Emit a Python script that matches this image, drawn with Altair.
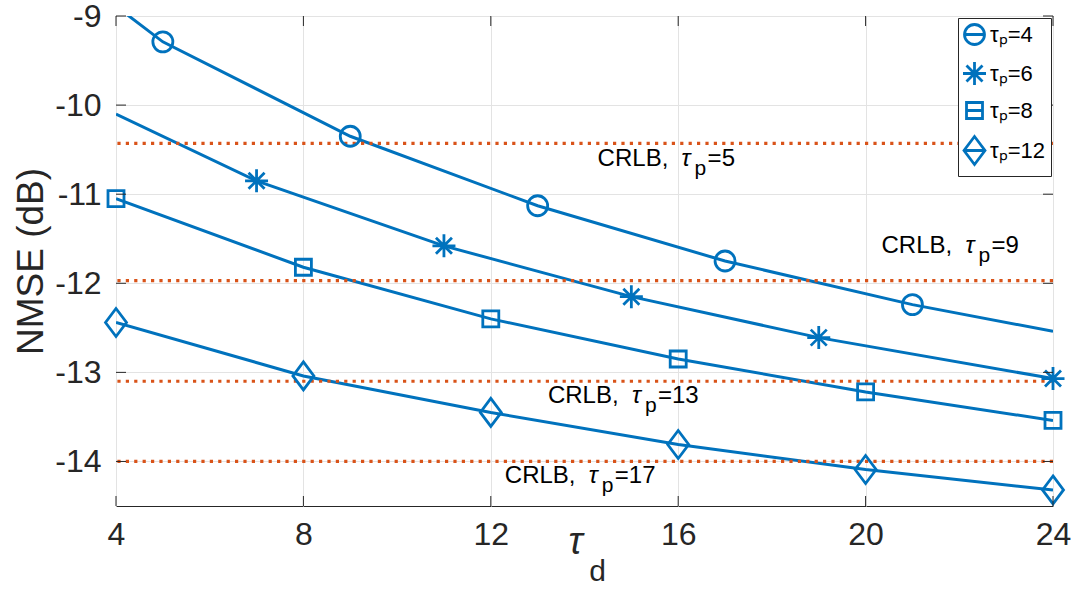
import altair as alt
import pandas as pd

# ---- data -------------------------------------------------------------
tau_d_circ = [4, 5, 9, 13, 17, 21, 24]
nmse_circ = [-8.89, -9.29, -10.35, -11.13, -11.75, -12.24, -12.54]
mark_circ = [False, True, True, True, True, True, False]

tau_d_star = [4, 7, 11, 15, 19, 24]
nmse_star = [-10.10, -10.85, -11.58, -12.15, -12.61, -13.07]
mark_star = [False, True, True, True, True, True]

tau_d_sq = [4, 8, 12, 16, 20, 24]
nmse_sq = [-11.05, -11.82, -12.40, -12.85, -13.22, -13.54]
mark_sq = [True, True, True, True, True, True]

tau_d_dia = [4, 8, 12, 16, 20, 24]
nmse_dia = [-12.44, -13.04, -13.45, -13.81, -14.09, -14.32]
mark_dia = [True, True, True, True, True, True]

series = ["τₚ=4", "τₚ=6", "τₚ=8", "τₚ=12"]

crlb_tp = [5, 9, 13, 17]
crlb_nmse = [-10.43, -11.97, -13.10, -14.00]
crlb_label_x = [14.28, 20.34, 13.22, 12.30]
crlb_label_y = [-10.60, -11.58, -13.27, -14.16]

x_ticks = [4, 8, 12, 16, 20, 24]
y_ticks = [-14, -13, -12, -11, -10, -9]
X_MIN, X_MAX = 4, 24
Y_MIN, Y_MAX = -14.5, -9

# ---- style ------------------------------------------------------------
W, H = 937, 490
BLUE = "#0072BD"
ORANGE = "#D95319"
AX = "#262626"
GRID = "#e3e3e3"
FONT = "Liberation Sans"

# marker outlines (unit space, scaled by sqrt(size)/2)
plot_paths = [
    "M1,0A1,1,0,1,1,-1,0A1,1,0,1,1,1,0Z",
    "M0,-1.15L0,1.15M-1.15,0L1.15,0M-0.8,-0.8L0.8,0.8M-0.8,0.8L0.8,-0.8",
    "M-0.8,-0.8L0.8,-0.8L0.8,0.8L-0.8,0.8Z",
    "M0,-1.4L1.05,0L0,1.4L-1.05,0Z",
]
# legend symbols: the same outlines with the curve's line through them
legend_paths = [
    plot_paths[0] + "M-1,0L1,0",
    plot_paths[1],
    plot_paths[2] + "M-0.8,0L0.8,0",
    plot_paths[3] + "M-1.05,0L1.05,0",
]


def curve(xs, ys, flags, name):
    return pd.DataFrame({"tau_d": xs, "nmse": ys, "marker": flags, "series": name})


curves = pd.concat(
    [
        curve(tau_d_circ, nmse_circ, mark_circ, series[0]),
        curve(tau_d_star, nmse_star, mark_star, series[1]),
        curve(tau_d_sq, nmse_sq, mark_sq, series[2]),
        curve(tau_d_dia, nmse_dia, mark_dia, series[3]),
    ],
    ignore_index=True,
)

crlb_df = pd.DataFrame({"nmse": crlb_nmse, "tp": crlb_tp})
labels_df = pd.DataFrame(
    {
        "tau_d": crlb_label_x,
        "nmse": crlb_label_y,
        "head": ["CRLB,"] * 4,
        "tau": ["τ"] * 4,
        "sub": ["p"] * 4,
        "tail": [f"={t}" for t in crlb_tp],
    }
)

x_scale = alt.Scale(domain=[X_MIN, X_MAX], nice=False, zero=False)
y_scale = alt.Scale(domain=[Y_MIN, Y_MAX], nice=False, zero=False)

x_axis = alt.Axis(
    values=x_ticks, title=None, grid=True, gridColor=GRID, ticks=False,
    domain=False, labelFont=FONT, labelFontSize=32, labelColor=AX,
    labelPadding=13, labelFlush=False,
)
y_axis = alt.Axis(
    values=y_ticks, title="NMSE (dB)", grid=True, gridColor=GRID, ticks=False,
    domain=False, labelFont=FONT, labelFontSize=32, labelColor=AX,
    labelPadding=15, labelExpr="'' + datum.value",
    titleFont=FONT, titleFontSize=37, titleFontWeight="normal", titleColor=AX,
    titlePadding=4,
)

# the other layers share these scales and leave the axis unspecified
X = alt.X("tau_d:Q", scale=x_scale)
Y = alt.Y("nmse:Q", scale=y_scale)

# ---- layers -----------------------------------------------------------
lines = alt.Chart(curves).mark_line(color=BLUE, strokeWidth=3, clip=True).encode(
    x=alt.X("tau_d:Q", scale=x_scale, axis=x_axis),
    y=alt.Y("nmse:Q", scale=y_scale, axis=y_axis),
    detail="series:N",
)

crlb = alt.Chart(crlb_df).mark_rule(
    color=ORANGE, strokeWidth=3.2, strokeDash=[3.2, 5.2], strokeCap="butt"
).encode(y=Y)

markers = (
    alt.Chart(curves)
    .transform_filter(alt.datum.marker)
    .mark_point(filled=False, size=400, strokeWidth=2.8, color=BLUE, opacity=1)
    .encode(
        x=X,
        y=Y,
        shape=alt.Shape(
            "series:N", scale=alt.Scale(domain=series, range=plot_paths), legend=None
        ),
    )
)

# legend only: no rows reach this layer, its shape scale feeds the legend
legend_layer = (
    alt.Chart(curves)
    .transform_filter("false")
    .mark_point(filled=False, size=400, strokeWidth=2.8, color=BLUE, opacity=1)
    .encode(
        x=X,
        y=Y,
        shape=alt.Shape(
            "series:N",
            scale=alt.Scale(domain=series, range=legend_paths),
            legend=alt.Legend(
                title=None, orient="top-right", offset=2, padding=5,
                rowPadding=5, symbolSize=400, symbolStrokeWidth=2.8,
                symbolStrokeColor=BLUE, symbolFillColor="transparent",
                symbolOpacity=1, labelFont=FONT, labelFontSize=22,
                labelColor="black", labelOffset=4, fillColor="white",
                strokeColor=AX, cornerRadius=0,
            ),
        ),
    )
)


def label_piece(field, dx, dy=0, size=24, style="normal"):
    return alt.Chart(labels_df).mark_text(
        align="left", baseline="middle", dx=dx, dy=dy, fontSize=size,
        font=FONT, fontStyle=style, color="black",
    ).encode(x=X, y=Y, text=f"{field}:N")


label_layers = [
    label_piece("head", 0),
    label_piece("tau", 84, style="italic"),
    label_piece("sub", 97, dy=10, size=21),
    label_piece("tail", 110),
]

# inward tick marks on all four sides of the box
ytick_df = pd.DataFrame({"nmse": y_ticks})
xtick_df = pd.DataFrame({"tau_d": x_ticks})


def y_edge_ticks(x_at, offset):
    return alt.Chart(ytick_df).mark_tick(
        orient="horizontal", size=10, thickness=1, color=AX, xOffset=offset, opacity=1
    ).encode(x=alt.XDatum(x_at, scale=x_scale), y=Y)


def x_edge_ticks(y_at, offset):
    return alt.Chart(xtick_df).mark_tick(
        orient="vertical", size=10, thickness=1, color=AX, yOffset=offset, opacity=1
    ).encode(x=X, y=alt.YDatum(y_at, scale=y_scale))


tick_layers = [
    y_edge_ticks(X_MIN, 5),
    y_edge_ticks(X_MAX, -5),
    x_edge_ticks(Y_MIN, -5),
    x_edge_ticks(Y_MAX, 5),
]


# x-axis title: tau with subscript d, anchored below the middle of the axis
def x_title_piece(txt, dx, dy, size, style):
    return alt.Chart(ytick_df.head(1)).mark_text(
        text=txt, font=FONT, fontSize=size, fontStyle=style, color=AX,
        align="center", baseline="middle", dx=dx, dy=dy,
    ).encode(
        x=alt.XDatum((X_MIN + X_MAX) / 2, scale=x_scale),
        y=alt.YDatum(Y_MIN, scale=y_scale),
    )


x_title_layers = [
    x_title_piece("τ", -9, 37, 38, "italic"),
    x_title_piece("d", 13, 66, 30, "normal"),
]

chart = (
    alt.layer(lines, crlb, markers, legend_layer, *label_layers, *tick_layers,
              *x_title_layers)
    .resolve_scale(shape="independent")
    .properties(
        width=W,
        height=H,
        autosize=alt.AutoSizeParams(type="none"),
        padding={"left": 116, "top": 16, "right": 1074 - 116 - W, "bottom": 591 - 16 - H},
        background="white",
    )
    .configure_view(stroke=AX, strokeWidth=1)
)

chart.save("out.html", embed_options={"renderer": "svg", "actions": False})
